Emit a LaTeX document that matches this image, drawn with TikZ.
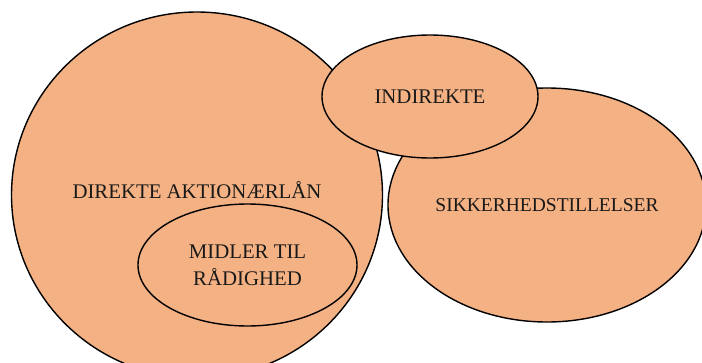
\documentclass[tikz,border=0pt]{standalone}
\usepackage{fontspec}
\setmainfont{Liberation Serif}
\usetikzlibrary{shapes.geometric}
\definecolor{peach}{HTML}{F4B183}
\tikzset{
	set/.style={draw=black,line width=1.4pt,fill=peach,ellipse,inner sep=0pt},
	settext/.style={font=\fontsize{20.8}{27}\selectfont,align=center,text=black!90}
}
\begin{document}
\begin{tikzpicture}[x=1pt,y=-1pt]
		\useasboundingbox (0,0) rectangle (702,362);
		\draw (197,195) node (direkte)[set,minimum width=371pt,minimum height=366pt]{};
		\draw (197,190) node (direktetxt)[settext]{DIREKTE AKTIONÆRLÅN};
		\draw (247.5,265) node (midler)[set,minimum width=219pt,minimum height=122pt,settext]{MIDLER TIL\\RÅDIGHED};
		\draw (547,205) node (sikker)[set,minimum width=318pt,minimum height=234pt,settext,font=\fontsize{19.5}{24}\selectfont]{SIKKERHEDSTILLELSER};
		\draw (430,96.5) node (indirekte)[set,minimum width=216pt,minimum height=123pt,settext]{INDIREKTE};
	\end{tikzpicture}
\end{document}
